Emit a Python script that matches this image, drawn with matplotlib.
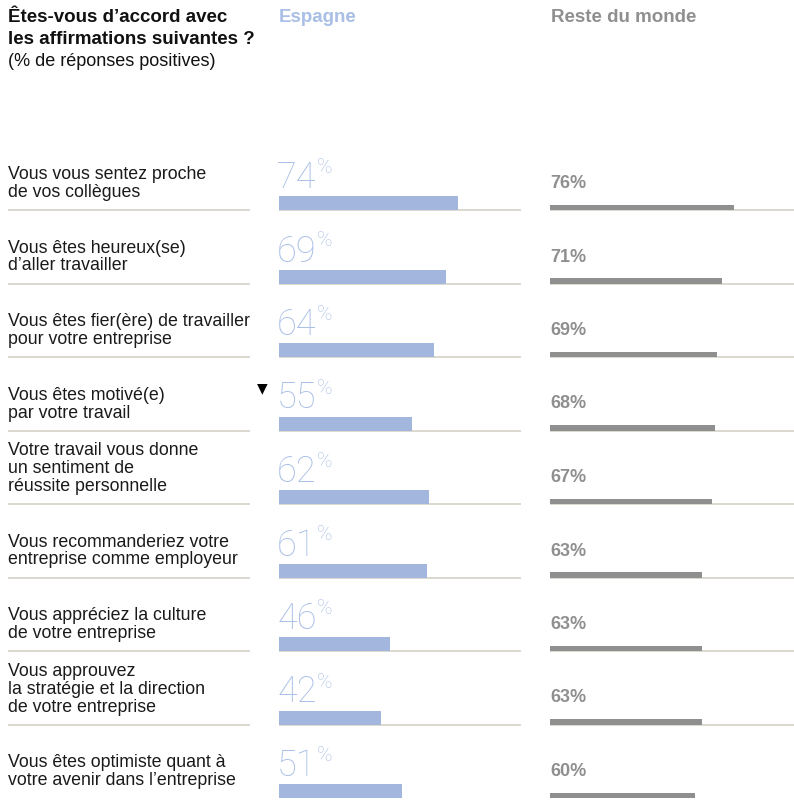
import matplotlib
matplotlib.use("Agg")
import matplotlib.pyplot as plt

# affirmations (libellés de gauche)
labels = [
    "Vous vous sentez proche\nde vos collègues",
    "Vous êtes heureux(se)\nd’aller travailler",
    "Vous êtes fier(ère) de travailler\npour votre entreprise",
    "Vous êtes motivé(e)\npar votre travail",
    "Votre travail vous donne\nun sentiment de\nréussite personnelle",
    "Vous recommanderiez votre\nentreprise comme employeur",
    "Vous appréciez la culture\nde votre entreprise",
    "Vous approuvez\nla stratégie et la direction\nde votre entreprise",
    "Vous êtes optimiste quant à\nvotre avenir dans l’entreprise",
]
# % de réponses positives
espagne = [74, 69, 64, 55, 62, 61, 46, 42, 51]
reste_monde = [76, 71, 69, 68, 67, 63, 63, 63, 60]
# ligne marquée d'un triangle (écart notable)
flag_row = 3

BLUE = "#a3b6de"
BLUE_TXT = "#a9bfe6"
GREY = "#8f8f8f"
SEP = "#d8d6cc"
FONT = "Liberation Sans"

W, H = 794, 800
fig = plt.figure(figsize=(W / 100, H / 100), dpi=100)


def make_ax(x0, x1, xmax):
    ax = fig.add_axes([x0 / W, 0, (x1 - x0) / W, 1])
    ax.set_xlim(0, xmax)
    ax.set_ylim(H, 0)
    ax.axis("off")
    return ax


ax_lab = make_ax(8, 250, 1)
ax_es = make_ax(279, 521, 100)
ax_rm = make_ax(550, 794, 100 * 244 / 242)

row_h = 73.5
seps = [210 + row_h * i for i in range(len(labels))]

# séparateurs
for i, s in enumerate(seps[:-1]):
    for ax in (ax_lab, ax_es, ax_rm):
        ax.axhline(s, color=SEP, lw=1.3, zorder=1)

# libellés
for lab, s in zip(labels, seps):
    ax_lab.text(0, s - 9, lab, ha="left", va="bottom", fontsize=12.8,
                family=FONT, color="#1a1a1a", linespacing=1.07)

# Espagne
ax_es.barh([s - 7 for s in seps], espagne, height=14, color=BLUE,
           align="center", zorder=2)
num_texts = []
for v, s in zip(espagne, seps):
    t = ax_es.text(-0.8, s - 22, str(v), ha="left", va="baseline",
                   fontsize=26, family="Roboto", fontweight="light",
                   color=BLUE_TXT)
    num_texts.append((t, s))

# Reste du monde
ax_rm.barh([s - 2.75 for s in seps], reste_monde, height=5.5, color=GREY,
           align="center", zorder=2)
for v, s in zip(reste_monde, seps):
    ax_rm.text(0, s - 22, f"{v}%", ha="left", va="baseline", fontsize=13,
               family=FONT, fontweight="bold", color=GREY)

# petit signe % en exposant après les chiffres espagnols
fig.canvas.draw()
r = fig.canvas.get_renderer()
for t, s in num_texts:
    bb = t.get_window_extent(renderer=r)
    x_px = bb.x1 + 0.5
    fig.text(x_px / W, 1 - (s - 52) / H, "%", ha="left", va="top",
             fontsize=15, family="Roboto", fontweight="light", color=BLUE_TXT)

# triangle
s = seps[flag_row]
fig.text(262 / W, 1 - (s - 42) / H, "▼", ha="center", va="center",
         fontsize=10, family="DejaVu Sans", color="black")

# en-têtes
HS = 13.5
fig.text(8 / W, 1 - 17 / H, "Êtes-vous d’accord avec", ha="left", va="center",
         fontsize=HS, family=FONT, fontweight="bold", color="#111111")
fig.text(8 / W, 1 - 40 / H, "les affirmations suivantes ?", ha="left",
         va="center", fontsize=HS, family=FONT, fontweight="bold",
         color="#111111")
fig.text(8 / W, 1 - 62 / H, "(% de réponses positives)", ha="left",
         va="center", fontsize=13, family=FONT, color="#111111")
fig.text(279 / W, 1 - 17 / H, "Espagne", ha="left", va="center",
         fontsize=HS, family=FONT, fontweight="bold", color=BLUE_TXT)
fig.text(551 / W, 1 - 17 / H, "Reste du monde", ha="left", va="center",
         fontsize=HS, family=FONT, fontweight="bold", color=GREY)

fig.savefig("out.png", dpi=100)
